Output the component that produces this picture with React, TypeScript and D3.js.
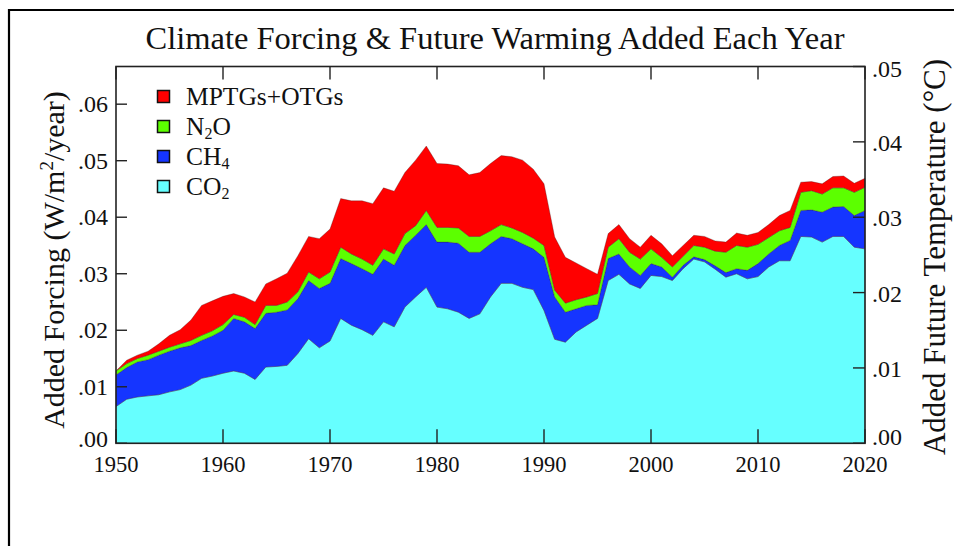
import React from "react";
import * as d3 from "d3";

const years: number[] = d3.range(1950, 2021);

const co2 = [
  0.0065, 0.0078, 0.0082, 0.0084, 0.0086, 0.0091, 0.0095, 0.0103, 0.0115, 0.0119,
  0.0124, 0.0128, 0.0124, 0.0113, 0.0135, 0.0136, 0.0138, 0.0159, 0.0185, 0.0169,
  0.0181, 0.0221, 0.0209, 0.0201, 0.0191, 0.0215, 0.0206, 0.0241, 0.0259, 0.0276,
  0.0241, 0.0238, 0.0232, 0.0221, 0.0229, 0.0259, 0.0283, 0.0283, 0.0276, 0.0272,
  0.0235, 0.0184, 0.0179, 0.0197, 0.0209, 0.0221, 0.0288, 0.0299, 0.0282, 0.0274,
  0.0297, 0.0295, 0.0288, 0.0309, 0.0326, 0.0321, 0.0308, 0.0294, 0.0300, 0.0291,
  0.0295, 0.0312, 0.0323, 0.0323, 0.0366, 0.0365, 0.0356, 0.0366, 0.0366, 0.0347,
  0.0344,
];
const ch4 = [
  0.0056, 0.0056, 0.0062, 0.0064, 0.0070, 0.0072, 0.0074, 0.0070, 0.0067, 0.0071,
  0.0076, 0.0093, 0.0091, 0.0090, 0.0095, 0.0096, 0.0098, 0.0097, 0.0103, 0.0105,
  0.0102, 0.0106, 0.0109, 0.0108, 0.0108, 0.0111, 0.0109, 0.0109, 0.0109, 0.0111,
  0.0115, 0.0118, 0.0122, 0.0117, 0.0109, 0.0094, 0.0083, 0.0079, 0.0077, 0.0072,
  0.0094, 0.0075, 0.0053, 0.0041, 0.0035, 0.0024, 0.0039, 0.0036, 0.0030, 0.0023,
  0.0021, 0.0017, 0.0006, 0.0006, 0.0004, 0.0004, 0.0006, 0.0008, 0.0009, 0.0015,
  0.0023, 0.0023, 0.0027, 0.0036, 0.0046, 0.0048, 0.0053, 0.0052, 0.0053, 0.0056,
  0.0068,
];
const n2o = [
  0.0007, 0.0007, 0.0006, 0.0008, 0.0007, 0.0007, 0.0007, 0.0009, 0.0009, 0.0009,
  0.0010, 0.0007, 0.0008, 0.0007, 0.0014, 0.0012, 0.0014, 0.0012, 0.0015, 0.0017,
  0.0020, 0.0020, 0.0017, 0.0017, 0.0016, 0.0018, 0.0020, 0.0021, 0.0017, 0.0025,
  0.0026, 0.0026, 0.0027, 0.0028, 0.0028, 0.0023, 0.0021, 0.0019, 0.0020, 0.0019,
  0.0021, 0.0012, 0.0016, 0.0016, 0.0015, 0.0020, 0.0020, 0.0027, 0.0026, 0.0029,
  0.0026, 0.0017, 0.0018, 0.0016, 0.0020, 0.0022, 0.0026, 0.0036, 0.0041, 0.0041,
  0.0034, 0.0029, 0.0026, 0.0023, 0.0032, 0.0034, 0.0032, 0.0034, 0.0033, 0.0041,
  0.0041,
];
const mptg = [
  0.0000, 0.0006, 0.0006, 0.0007, 0.0013, 0.0021, 0.0025, 0.0036, 0.0053, 0.0053,
  0.0050, 0.0037, 0.0036, 0.0040, 0.0038, 0.0047, 0.0051, 0.0064, 0.0063, 0.0071,
  0.0076, 0.0086, 0.0094, 0.0103, 0.0109, 0.0108, 0.0111, 0.0108, 0.0116, 0.0114,
  0.0113, 0.0112, 0.0110, 0.0109, 0.0113, 0.0119, 0.0122, 0.0126, 0.0128, 0.0122,
  0.0109, 0.0094, 0.0081, 0.0065, 0.0050, 0.0034, 0.0024, 0.0025, 0.0024, 0.0021,
  0.0024, 0.0024, 0.0020, 0.0019, 0.0018, 0.0019, 0.0018, 0.0018, 0.0022, 0.0021,
  0.0021, 0.0023, 0.0027, 0.0030, 0.0018, 0.0016, 0.0018, 0.0020, 0.0021, 0.0016,
  0.0016,
];

const seriesKeys = ["co2", "ch4", "n2o", "mptg"];
const seriesColors = ["#66ffff", "#1535ff", "#5cff00", "#ff0000"];
const legendOrder = ["mptg", "n2o", "ch4", "co2"];

const xTicks = [1950, 1960, 1970, 1980, 1990, 2000, 2010, 2020];
const yLeftTicks = [0, 0.01, 0.02, 0.03, 0.04, 0.05, 0.06];
const yRightTicks = [0, 0.01, 0.02, 0.03, 0.04, 0.05];
const sensitivity = 0.75; // °C per W/m2

const W = 954;
const H = 546;
const M = { left: 116, right: 865, top: 66.5, bottom: 443.3 };
const FONT = "'Liberation Serif', 'Times New Roman', serif";

export default function App() {
  const table = years.map((yr, i) => ({
    year: yr,
    co2: co2[i],
    ch4: ch4[i],
    n2o: n2o[i],
    mptg: mptg[i],
  }));
  const stacked = d3.stack<any>().keys(seriesKeys)(table);

  const x = d3.scaleLinear().domain([1950, 2020]).range([M.left, M.right]);
  const yL = d3.scaleLinear().domain([0, 0.05 / sensitivity]).range([M.bottom, M.top]);
  const yR = d3.scaleLinear().domain([0, 0.05]).range([M.bottom, M.top]);

  const area = d3
    .area<any>()
    .x((d) => x(d.data.year))
    .y0((d) => yL(d[0]))
    .y1((d) => yL(d[1]));

  const fmt = (v: number) => d3.format(".2f")(v).replace(/^0/, "");

  const sub = (s: string) => (
    <tspan dy="4" fontSize="16">
      {s}
    </tspan>
  );
  const legendNames: Record<string, React.ReactNode> = {
    mptg: "MPTGs+OTGs",
    n2o: (
      <>
        N{sub("2")}
        <tspan dy="-4">O</tspan>
      </>
    ),
    ch4: <>CH{sub("4")}</>,
    co2: <>CO{sub("2")}</>,
  };

  return (
    <svg
      width={W}
      height={H}
      style={{ position: "absolute", left: 0, top: 0, background: "#fff" }}
      fontFamily={FONT}
    >
      <rect x={0} y={0} width={W} height={H} fill="#fff" />
      {/* outer frame */}
      <path d={`M9,${H} L9,10 L${W},10`} fill="none" stroke="#000" strokeWidth={2.2} />

      {/* title */}
      <text x={495} y={49} textAnchor="middle" fontSize={32.5} fill="#111">
        Climate Forcing &amp; Future Warming Added Each Year
      </text>

      {/* areas */}
      {stacked.map((s, i) => (
        <path
          key={s.key}
          d={area(s) || ""}
          fill={seriesColors[i]}
          stroke="rgba(60,30,30,0.45)"
          strokeWidth={0.7}
        />
      ))}

      {/* plot frame */}
      <rect
        x={M.left}
        y={M.top}
        width={M.right - M.left}
        height={M.bottom - M.top}
        fill="none"
        stroke="#222"
        strokeWidth={1.6}
      />

      {/* x ticks bottom & top */}
      {xTicks.map((t) => (
        <g key={t}>
          <line x1={x(t)} x2={x(t)} y1={M.bottom} y2={M.bottom - 14} stroke="#222" strokeWidth={1.4} />
          <line x1={x(t)} x2={x(t)} y1={M.top} y2={M.top + 13} stroke="#222" strokeWidth={1.4} />
          <text x={x(t)} y={472} textAnchor="middle" fontSize={22.5} fill="#111">
            {t}
          </text>
        </g>
      ))}

      {/* left ticks */}
      {yLeftTicks.map((t, i) => (
        <g key={t}>
          <line x1={M.left} x2={M.left + 11} y1={yL(t)} y2={yL(t)} stroke="#222" strokeWidth={1.4} />
          <text x={108} y={yL(t) + (i === 0 ? 4 : 8)} textAnchor="end" fontSize={24} fill="#111">
            {fmt(t)}
          </text>
        </g>
      ))}

      {/* right ticks */}
      {yRightTicks.map((t, i) => (
        <g key={t}>
          <line x1={M.right} x2={M.right - 12} y1={yR(t)} y2={yR(t)} stroke="#222" strokeWidth={1.4} />
          <text
            x={872}
            y={yR(t) + 8 + (i === 0 ? -6 : i === yRightTicks.length - 1 ? 2 : 1)}
            textAnchor="start"
            fontSize={24}
            fill="#111"
          >
            {fmt(t)}
          </text>
        </g>
      ))}

      {/* axis labels */}
      <text
        transform="translate(64,260) rotate(-90)"
        textAnchor="middle"
        fontSize={30}
        fill="#111"
      >
        Added Forcing (W/m<tspan dy="-11" fontSize="19">2</tspan>
        <tspan dy="11">/year)</tspan>
      </text>
      <text
        transform="translate(945,257) rotate(-90)"
        textAnchor="middle"
        fontSize={31}
        fill="#111"
      >
        Added Future Temperature (°C)
      </text>

      {/* legend */}
      {legendOrder.map((k, i) => {
        const ci = seriesKeys.indexOf(k);
        const cy = 97 + i * 30;
        return (
          <g key={k}>
            <rect x={157.5} y={cy - 6.5} width={12} height={12} fill={seriesColors[ci]} stroke="#111" strokeWidth={1.5} />
            <text x={186} y={cy + 8} fontSize={25.5} fill="#111">
              {legendNames[k]}
            </text>
          </g>
        );
      })}
    </svg>
  );
}
